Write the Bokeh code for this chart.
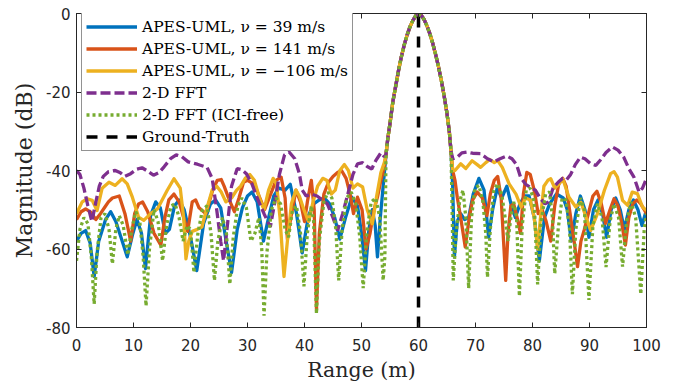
from bokeh.plotting import figure
from bokeh.models import Range1d, FixedTicker, LinearAxis, Legend, LegendItem
from bokeh.embed import file_html
from bokeh.resources import INLINE

# ---------------- data ----------------
x_ticks = [0, 10, 20, 30, 40, 50, 60, 70, 80, 90, 100]
y_ticks = [-80, -60, -40, -20, 0]
ground_truth_range = 60

# shared main lobe (all methods coincide here)
lobe_x = [54.3, 54.6, 55.0, 55.5, 56.0, 56.5, 57.0, 57.5, 58.0, 58.5, 59.0, 59.5, 60.0,
          60.5, 61.0, 61.5, 62.0, 62.5, 63.0, 63.5, 64.0, 64.5, 65.0, 65.4, 65.7]
lobe_y = [-36, -32, -28, -22.5, -18.5, -14.5, -11, -8, -5.5, -3.4, -1.8, -0.6, 0,
          -0.5, -1.6, -3.2, -5.2, -7.6, -10.4, -13.5, -17, -21, -25.5, -30, -35]

# APES-UML, v = 39 m/s
blue_left_x = [0, 0.8, 1.6, 2.4, 3.1, 3.9, 5.1, 6.0, 6.9, 7.8, 8.9, 9.8, 10.6, 11.4, 12.1, 13.0, 13.9,
               14.7, 15.6, 16.3, 17.2, 18.0, 18.9, 20.0, 21.1, 22.3, 23.5, 24.4, 25.3, 26.2, 27.2, 28.2,
               29.1, 30.0, 30.8, 31.7, 32.8, 33.7, 34.6, 35.5, 36.6, 37.5, 38.6, 39.6, 40.7, 41.6, 42.6,
               43.5, 44.4, 45.3, 46.2, 47.2, 48.3, 49.3, 50.0, 50.7, 51.3, 51.9, 52.4, 52.8, 53.3, 53.8]
blue_left_y = [-58, -56, -55.3, -58.5, -67, -58, -52.5, -50.5, -53, -57, -62, -56.5, -52.5, -56, -65, -51.5, -48,
               -49.5, -56, -55, -49, -47.5, -50, -57, -65.5, -53.5, -48.5, -47.5, -49.5, -57.5, -66, -55,
               -49.5, -46.5, -45.5, -48, -58, -52, -46.5, -44.5, -45, -43.5, -51, -61, -51.5, -48.5, -47.5,
               -47, -48.5, -52, -57.5, -52, -46.8, -49, -56, -65.5, -55, -50, -54, -62, -52, -44]
blue_right_x = [66.0, 66.3, 66.8, 67.4, 68.1, 68.8, 69.6, 70.6, 71.5, 72.3, 73.0, 73.8, 74.6, 75.5, 76.3,
                77.0, 77.8, 78.6, 79.4, 80.3, 81.2, 82.1, 83.0, 84.2, 85.4, 86.1, 86.8, 87.6, 88.4, 89.2,
                89.9, 90.7, 91.5, 92.3, 93.0, 93.8, 94.6, 95.4, 96.1, 96.9, 97.7, 98.5, 99.2, 100]
blue_right_y = [-44, -62, -53, -51, -52.5, -52, -46, -42, -45, -57, -50, -44.5, -47, -44, -49,
                -52, -48.5, -46.5, -46.5, -52, -63, -52, -48.5, -46, -47, -50, -58, -51, -46.5, -50,
                -57, -50, -47.5, -51, -57, -50, -47, -50, -55, -50, -47.5, -50, -54, -50]

# APES-UML, v = 141 m/s
orange_left_x = [0, 0.8, 1.6, 2.5, 3.4, 4.2, 4.9, 5.6, 6.3, 7.5, 8.5, 9.5, 10.2, 10.9, 11.6, 12.5, 13.6,
                 14.8, 15.5, 16.2, 17.1, 18.0, 18.6, 19.5, 20.3, 20.9, 21.5, 22.7, 23.9, 24.7, 25.4, 25.9,
                 26.8, 27.7, 28.5, 29.3, 30.0, 31.2, 32.3, 33.0, 33.8, 35.0, 35.9, 36.6, 37.0, 37.6, 38.5,
                 39.3, 40.0, 40.5, 41.2, 41.7, 42.1, 42.6, 43.4, 44.2, 45.0, 45.8, 46.5, 47.3, 48.0, 48.6,
                 49.3, 50.1, 50.8, 51.5, 52.2, 52.8, 53.4, 54.0]
orange_left_y = [-52.5, -50.5, -49.8, -50.6, -52.5, -51, -49.5, -48, -47, -46.5, -51, -58, -51, -48.5, -48,
                 -50.5, -56, -59, -52, -47.5, -46, -48, -51, -55.5, -48, -47.5, -49.5, -51, -45, -42.5,
                 -42.3, -44, -47.5, -50.5, -47, -43, -42.5, -43.5, -47.5, -50, -47, -42.5, -41.7, -47,
                 -57.5, -52, -45, -48, -53, -48, -42.5, -50, -75.5, -56, -46, -43, -41.5, -40.5, -40, -42,
                 -46, -51, -46.8, -50, -60, -56, -50, -46.8, -42.5, -39]
orange_right_x = [66.0, 66.4, 66.8, 67.4, 68.2, 68.9, 69.5, 70.3, 71.2, 72.0, 72.6, 73.3, 73.9, 74.5, 75.0,
                  75.3, 75.7, 76.2, 76.7, 77.3, 77.9, 78.4, 79.0, 79.6, 80.3, 81.0, 81.7, 82.4, 83.2, 83.9,
                  84.6, 85.3, 85.9, 86.6, 87.3, 87.9, 88.5, 89.1, 89.8, 90.6, 91.3, 92.0, 92.8, 93.6, 94.3,
                  95.0, 95.6, 96.3, 96.9, 97.6, 98.3, 99.0, 99.6, 100]
orange_right_y = [-40, -42.5, -46.8, -52, -59.5, -52, -47.5, -45.5, -47, -51.5, -46, -42.5, -41.5, -47, -60,
                  -68, -56, -49, -48.5, -52, -56, -46, -40.5, -41, -45, -51, -50, -53, -58, -49,
                  -43.5, -42, -44, -51, -58, -64.5, -58, -55, -51, -46.5, -45.3, -48, -53.5, -50, -47.2,
                  -49, -53, -59, -52, -48.5, -47.5, -48.5, -50, -51]

# APES-UML, v = -106 m/s
yellow_left_x = [0, 0.5, 1.0, 1.9, 2.75, 3.6, 4.5, 5.7, 6.8, 8.0, 8.9, 9.8, 10.9, 11.8, 13.0, 14.2, 15.9,
                 17.1, 18.2, 18.8, 19.2, 19.7, 20.3, 21.2, 22.0, 22.9, 23.8, 24.6, 25.4, 26.2, 27.2, 28.1,
                 28.8, 29.6, 30.4, 31.2, 32.1, 32.9, 33.7, 34.5, 35.1, 35.7, 36.4, 37.0, 37.7, 38.5, 39.1,
                 39.9, 40.7, 41.5, 42.3, 43.2, 43.9, 44.7, 45.4, 46.2, 47.0, 47.7, 48.5, 49.3, 50.2, 51.0,
                 51.9, 52.6, 53.4, 54.0]
yellow_left_y = [-51, -49.5, -48, -47.2, -47.6, -50.2, -44.5, -43, -43.8, -42.1, -43.4, -46.8, -51.9, -52.7,
                 -51, -49.8, -45.1, -42.1, -44.5, -52, -62.5, -58, -55.5, -55, -54.4, -49.5, -45, -44,
                 -45.5, -48, -47, -45, -44, -42, -41, -42.5, -47, -50, -45, -42, -43.5, -52, -67, -58,
                 -48.5, -45, -46.5, -50, -53, -48, -44, -42, -42.5, -46, -45, -40, -38.5, -40, -44.5,
                 -43.4, -44.2, -50, -53.6, -47, -40.5, -38]
yellow_right_x = [66.0, 66.4, 67.4, 68.3, 69.4, 70.3, 70.9, 71.8, 72.5, 73.3, 73.9, 74.7, 75.9, 77.1, 78.0,
                  78.8, 79.6, 80.3, 80.9, 81.4, 82.0, 82.7, 83.2, 83.9, 84.6, 85.3, 86.4, 87.6, 88.5, 89.4,
                  90.2, 91.4, 92.6, 93.7, 94.3, 94.9, 95.8, 96.7, 97.5, 98.4, 99.3, 100]
yellow_right_y = [-40, -40, -38.3, -39.5, -37.5, -38.5, -39.2, -38, -37.2, -38, -37.5, -39.2, -43.4, -46,
                  -49.3, -47, -47.5, -52, -60, -52, -44, -42.5, -42.1, -44.5, -43.5, -42.1, -46.8, -49.3,
                  -48.1, -51.9, -55.3, -51, -45.1, -40.8, -40.3, -41.7, -47.6, -48.9, -45.5, -45.9, -49.3,
                  -50.2]

# 2-D FFT
purple_left_x = [0, 0.6, 1.3, 2.0, 2.7, 3.4, 4.0, 4.7, 5.6, 6.8, 7.7, 8.5, 9.5, 10.5, 11.5, 12.3, 13.5,
                 14.5, 15.4, 16.5, 17.5, 18.5, 19.6, 21.2, 22.9, 23.8, 24.6, 25.3, 25.8, 26.4, 27.2, 28.2,
                 29.0, 29.8, 30.8, 31.7, 32.9, 34.0, 34.8, 35.6, 36.5, 37.3, 38.3, 39.1, 39.6, 40.3, 41.2,
                 42.2, 43.1, 44.0, 45.0, 45.8, 46.7, 47.6, 48.5, 49.3, 50.2, 51.0, 51.8, 52.5, 53.4, 54.0]
purple_left_y = [-40, -41, -44.5, -49, -53, -48, -44, -41.5, -40.3, -40, -40.6, -41.5, -40.8, -39.7, -39.3,
                 -40, -41.2, -40.5, -39, -37, -36, -36.5, -37.8, -38.4, -39.2, -42, -50, -58, -63, -55,
                 -44, -39.5, -39.8, -40.8, -43.5, -47, -51, -54.4, -48, -41, -36, -35.3, -37, -40.8, -45,
                 -46.5, -46, -46.5, -47.5, -48.5, -52, -55.3, -51, -46, -41, -38.3, -38, -39, -39.6,
                 -37.5, -35.5, -36.5]
purple_right_x = [66.0, 66.8, 67.6, 68.5, 69.5, 70.9, 72.1, 73.2, 74.3, 75.5, 76.4, 77.2, 77.9, 78.8, 79.6,
                  80.5, 81.3, 82.2, 82.8, 83.6, 84.5, 85.3, 86.0, 86.7, 87.5, 88.4, 89.2, 90.2, 91.1, 92.0,
                  92.9, 94.0, 95.0, 96.0, 96.9, 97.8, 98.7, 99.3, 100]
purple_right_y = [-37, -36.6, -35.5, -35.3, -35.6, -35.7, -37, -37.8, -37, -36.3, -37, -38.5, -41.7, -43.5,
                  -44.3, -45, -47, -48.5, -48, -44.5, -43, -42, -42.3, -41, -38.5, -36.6, -37, -38.3,
                  -38.7, -37.2, -35.4, -34, -34.8, -36.6, -39.5, -41.7, -45.5, -44.5, -42]

# 2-D FFT (ICI-free)
green_left_x = [0, 0.6, 1.3, 2.0, 2.6, 3.1, 3.6, 4.3, 5.0, 5.7, 6.3, 6.9, 7.5, 8.2, 9.0, 9.7, 10.4, 11.1,
                11.7, 12.2, 12.8, 13.6, 14.3, 15.1, 15.8, 16.6, 17.3, 18.0, 18.7, 19.4, 20.0, 20.6, 21.3,
                22.1, 22.9, 23.6, 24.2, 24.8, 25.6, 26.3, 26.9, 27.5, 28.3, 29.0, 29.8, 30.6, 31.3, 32.0,
                32.5, 32.9, 33.4, 34.2, 35.0, 35.8, 36.6, 37.2, 37.9, 38.6, 39.3, 39.9, 40.5, 41.2, 41.6,
                42.1, 42.6, 43.4, 44.1, 44.8, 45.5, 46.0, 46.6, 47.4, 48.2, 49.0, 49.7, 50.3, 50.9, 51.7,
                52.5, 53.2, 53.8, 54.1]
green_left_y = [-63, -55, -52, -53.5, -62, -74, -61, -52, -51, -55, -63.8, -55, -51.5, -54, -61.5, -55,
                -50.5, -53, -62, -74.5, -60, -50, -53, -63, -54, -49, -48.5, -52, -58, -54, -55, -66,
                -56, -50, -49, -56, -68, -58, -52, -56, -69, -57, -49, -47, -49.5, -58, -56, -52, -60,
                -77, -61, -50, -47, -48.5, -55, -57, -50, -49, -56, -69.5, -56, -49, -53, -76.5, -58,
                -48, -45.5, -47, -55, -68, -55, -47, -45.5, -48.5, -57, -70, -56, -48, -47, -52, -68, -62]
green_right_x = [65.9, 66.1, 66.6, 67.2, 67.8, 68.3, 68.8, 69.3, 69.9, 70.6, 71.3, 71.8, 72.1, 72.6, 73.2,
                 73.9, 74.6, 75.2, 75.7, 76.2, 76.7, 77.2, 77.7, 78.2, 78.9, 79.6, 80.3, 80.9, 81.5, 82.3,
                 83.0, 83.5, 83.9, 84.5, 85.2, 85.9, 86.5, 87.0, 87.6, 88.4, 89.1, 89.9, 90.6, 91.4, 92.2,
                 92.9, 93.6, 94.3, 95.1, 95.8, 96.5, 97.3, 98.1, 99.0, 99.6, 100]
green_right_y = [-50, -68, -56, -48, -45, -52, -70, -52, -44.5, -43.8, -48, -56, -67.2, -55, -45, -43.4,
                 -46, -52, -58, -52, -48, -52, -72, -54, -45, -44.5, -48, -69, -53, -46, -45.5, -52,
                 -66.3, -55, -47, -47.5, -55, -71.5, -55, -47, -50, -73, -54, -48.5, -52, -64.6, -53,
                 -48.5, -52, -64.5, -53, -48, -52, -71.5, -55, -51]

labels = ["APES-UML, \u03bd = 39 m/s", "APES-UML, \u03bd = 141 m/s", "APES-UML, \u03bd = \u2212106 m/s",
          "2-D FFT", "2-D FFT (ICI-free)", "Ground-Truth"]
colors = ["#0072BD", "#D95319", "#EDB120", "#7E2F8E", "#77AC30", "#000000"]

# ---------------- figure ----------------
p = figure(width=674, height=385, output_backend="svg", toolbar_location=None,
           x_range=Range1d(0, 100), y_range=Range1d(-80, 0),
           min_border_left=76, min_border_right=28, min_border_top=13, min_border_bottom=58)
p.grid.visible = False
p.outline_line_color = "#262626"
p.outline_line_width = 1
p.background_fill_color = "white"
p.border_fill_color = "white"

TICK_FONT = "DejaVu Sans"
SERIF = "DejaVu Serif"

for ax in (p.xaxis[0], p.yaxis[0]):
    ax.axis_line_color = "#262626"
    ax.major_tick_line_color = "#262626"
    ax.major_tick_in = 5
    ax.major_tick_out = 0
    ax.minor_tick_line_color = None
    ax.major_label_text_font = TICK_FONT
    ax.major_label_text_font_size = "15px"
    ax.major_label_text_color = "#262626"
    ax.axis_label_text_font = SERIF
    ax.axis_label_text_font_style = "normal"
    ax.axis_label_text_color = "#262626"

p.xaxis.axis_label_text_font_size = "20.5px"
p.yaxis.axis_label_text_font_size = "22px"
p.xaxis.ticker = FixedTicker(ticks=x_ticks)
p.yaxis.ticker = FixedTicker(ticks=y_ticks)
p.xaxis.major_label_overrides = {t: str(t) for t in x_ticks}
p.yaxis.major_label_overrides = {t: str(t) for t in y_ticks}
p.xaxis.axis_label = "Range (m)"
p.yaxis.axis_label = "Magnitude (dB)"
p.xaxis.major_label_standoff = 11
p.yaxis.major_label_standoff = 6
p.xaxis.axis_label_standoff = 4
p.yaxis.axis_label_standoff = 6

# box: top and right axes with inward ticks; their labels are not painted
top = LinearAxis(ticker=FixedTicker(ticks=x_ticks), major_label_text_font_size="1px",
                 major_label_text_color=None, major_label_standoff=0,
                 major_tick_in=5, major_tick_out=0, minor_tick_line_color=None,
                 axis_line_color="#262626", major_tick_line_color="#262626")
right = LinearAxis(ticker=FixedTicker(ticks=y_ticks), major_label_text_font_size="1px",
                   major_label_text_color=None, major_label_standoff=0,
                   major_tick_in=5, major_tick_out=0, minor_tick_line_color=None,
                   axis_line_color="#262626", major_tick_line_color="#262626")
p.add_layout(top, "above")
p.add_layout(right, "right")

def full(lx, ly, rx, ry):
    return lx + lobe_x + rx, ly + lobe_y + ry

bx, by = full(blue_left_x, blue_left_y, blue_right_x, blue_right_y)
ox, oy = full(orange_left_x, orange_left_y, orange_right_x, orange_right_y)
yx, yy = full(yellow_left_x, yellow_left_y, yellow_right_x, yellow_right_y)
px_, py_ = full(purple_left_x, purple_left_y, purple_right_x, purple_right_y)
gx, gy = full(green_left_x, green_left_y, green_right_x, green_right_y)

LW = 3.3
r_blue = p.line(bx, by, line_color=colors[0], line_width=LW, line_join="round")
r_orange = p.line(ox, oy, line_color=colors[1], line_width=LW, line_join="round")
r_yellow = p.line(yx, yy, line_color=colors[2], line_width=LW, line_join="round")
r_purple = p.line(px_, py_, line_color=colors[3], line_width=LW, line_dash="10 4")
r_green = p.line(gx, gy, line_color=colors[4], line_width=LW, line_dash="3 3")
r_gt = p.line([ground_truth_range, ground_truth_range], [y_ticks[0], y_ticks[-1]],
              line_color=colors[5], line_width=3.5, line_dash="11 9")

legend = Legend(items=[LegendItem(label=l, renderers=[r]) for l, r in
                       zip(labels, [r_blue, r_orange, r_yellow, r_purple, r_green, r_gt])],
                location=(5, 176), margin=0, padding=4, spacing=3,
                glyph_width=51, glyph_height=19, label_height=19, label_standoff=5,
                label_text_font=SERIF, label_text_font_size="15.5px", label_text_color="#000000",
                border_line_color="#262626", border_line_width=1,
                background_fill_color="white", background_fill_alpha=1)
p.add_layout(legend)

open("out.html", "w").write(file_html(p, INLINE))
